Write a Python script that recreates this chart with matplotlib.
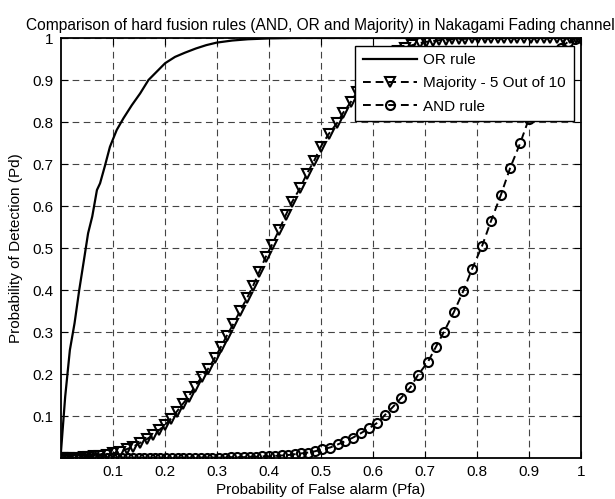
import matplotlib
matplotlib.use("Agg")
import matplotlib.pyplot as plt

plt.rcParams['font.family'] = ['Liberation Sans', 'DejaVu Sans']

# values
or_pfa = [0.0, 0.009, 0.018, 0.027, 0.036, 0.046, 0.053, 0.061, 0.070, 0.076, 0.085,
          0.095, 0.108, 0.121, 0.137, 0.153, 0.169, 0.185, 0.201, 0.220, 0.239,
          0.26, 0.28, 0.30, 0.33, 0.36, 0.40, 0.45, 0.5, 0.6, 0.7, 0.8, 0.9, 1.0]
or_pd = [0.0, 0.146, 0.257, 0.321, 0.400, 0.479, 0.535, 0.575, 0.638, 0.654, 0.694,
         0.741, 0.781, 0.809, 0.840, 0.868, 0.900, 0.920, 0.940, 0.955, 0.965,
         0.975, 0.983, 0.989, 0.994, 0.997, 0.999, 1.0, 1.0, 1.0, 1.0, 1.0, 1.0, 1.0]

maj_pfa = [0.0, 0.003, 0.008, 0.015, 0.025, 0.035, 0.045, 0.055, 0.065, 0.076, 0.089,
           0.101, 0.114, 0.127, 0.140, 0.153, 0.166, 0.178, 0.190, 0.201, 0.212,
           0.223, 0.235, 0.246, 0.258, 0.271, 0.284, 0.297, 0.308, 0.319, 0.332,
           0.345, 0.358, 0.370, 0.382, 0.394, 0.406, 0.420, 0.433, 0.445, 0.460,
           0.473, 0.487, 0.500, 0.515, 0.531, 0.543, 0.558, 0.570, 0.583, 0.596,
           0.609, 0.622, 0.636, 0.649, 0.662, 0.676, 0.690, 0.703, 0.716, 0.728,
           0.741, 0.753, 0.766, 0.778, 0.791, 0.803, 0.816, 0.828, 0.841, 0.853,
           0.866, 0.878, 0.891, 0.903, 0.916, 0.928, 0.941, 0.953, 0.966, 0.978,
           0.990, 1.0]
maj_pd = [0.0, 0.0, 0.0001, 0.0002, 0.0005, 0.001, 0.002, 0.003, 0.004, 0.005, 0.007,
          0.011, 0.015, 0.021, 0.027, 0.036, 0.045, 0.055, 0.067, 0.079, 0.094,
          0.110, 0.129, 0.146, 0.170, 0.192, 0.213, 0.239, 0.264, 0.290, 0.319,
          0.350, 0.380, 0.410, 0.444, 0.478, 0.507, 0.543, 0.579, 0.610, 0.642,
          0.676, 0.707, 0.741, 0.771, 0.797, 0.822, 0.848, 0.872, 0.895, 0.915,
          0.932, 0.947, 0.959, 0.969, 0.977, 0.983, 0.988, 0.991, 0.993, 0.995,
          0.996, 0.997, 0.998, 0.998, 0.999, 0.999, 0.999, 1.0, 1.0, 1.0,
          1.0, 1.0, 1.0, 1.0, 1.0, 1.0, 1.0, 1.0, 1.0, 1.0,
          1.0, 1.0]

and_pfa = [0.0, 0.004, 0.009, 0.015, 0.022, 0.029, 0.037, 0.045, 0.053, 0.062, 0.071,
           0.080, 0.090, 0.099, 0.109, 0.119, 0.129, 0.139, 0.150, 0.160, 0.171,
           0.181, 0.192, 0.203, 0.214, 0.225, 0.236, 0.247, 0.258, 0.270, 0.281,
           0.292, 0.304, 0.316, 0.328, 0.340, 0.352, 0.364, 0.376, 0.388, 0.400,
           0.412, 0.425, 0.437, 0.450, 0.463, 0.476, 0.489, 0.503, 0.518, 0.534,
           0.547, 0.561, 0.577, 0.593, 0.609, 0.623, 0.639, 0.655, 0.672, 0.687,
           0.706, 0.721, 0.737, 0.756, 0.774, 0.791, 0.810, 0.827, 0.846, 0.864,
           0.883, 0.900, 0.917, 0.933, 0.948, 0.962, 0.975, 0.988, 1.0]
and_pd = [0.0, 0.0, 0.0, 0.0, 0.0, 0.0, 0.0, 0.0, 0.0, 0.0, 0.0,
          0.0, 0.0, 0.0, 0.0, 0.0, 0.0, 0.0, 0.0, 0.0, 0.0,
          0.0, 0.0, 0.0, 0.0, 0.0005, 0.0005, 0.0005, 0.001, 0.001, 0.001,
          0.001, 0.001, 0.001, 0.002, 0.002, 0.002, 0.003, 0.003, 0.004, 0.004,
          0.005, 0.006, 0.007, 0.009, 0.011, 0.013, 0.016, 0.021, 0.025, 0.033,
          0.040, 0.048, 0.059, 0.071, 0.084, 0.102, 0.122, 0.144, 0.168, 0.198,
          0.229, 0.264, 0.301, 0.348, 0.398, 0.451, 0.505, 0.564, 0.626, 0.691,
          0.749, 0.808, 0.865, 0.913, 0.951, 0.977, 0.991, 0.998, 1.0]

x_ticks = [0.1, 0.2, 0.3, 0.4, 0.5, 0.6, 0.7, 0.8, 0.9, 1]
y_ticks = [0.1, 0.2, 0.3, 0.4, 0.5, 0.6, 0.7, 0.8, 0.9, 1]

fig = plt.figure(figsize=(6.15, 4.99), dpi=100)
ax = fig.add_axes([60.5 / 615, 1 - 458 / 499, 520.5 / 615, 420 / 499])

ax.plot(or_pfa, or_pd, '-', color='k', lw=1.6, label='OR rule')
ax.plot(maj_pfa, maj_pd, '--', color='k', lw=1.4, marker='v', ms=7,
        mfc='none', mec='k', mew=1.5, dashes=(4, 2.5), label='Majority - 5 Out of 10')
ax.plot(and_pfa, and_pd, '--', color='k', lw=1.4, marker='o', ms=6.5,
        mfc='none', mec='k', mew=1.5, dashes=(4, 2.5), label='AND rule')

ax.set_xlim(0, 1)
ax.set_ylim(0, 1)
ax.set_xticks(x_ticks)
ax.set_yticks(y_ticks)
ax.set_xticklabels([f"{t:g}" for t in x_ticks])
ax.set_yticklabels([f"{t:g}" for t in y_ticks])
ax.tick_params(direction='in', top=True, right=True, length=5, width=0.8,
               labelsize=11, colors='k', pad=5)
ax.grid(True, color='#444444', linestyle=(0, (6, 4)), linewidth=0.8)
for sp in ax.spines.values():
    sp.set_linewidth(1.3)
    sp.set_color('k')

ax.set_xlabel('Probability of False alarm (Pfa)', fontsize=11, labelpad=3)
ax.set_ylabel('Probability of Detection (Pd)', fontsize=11, labelpad=7)
ax.set_title('Comparison of hard fusion rules (AND, OR and Majority) in Nakagami Fading channel',
             fontsize=11.2, pad=6)

leg = ax.legend(loc='upper right', bbox_to_anchor=(0.986, 0.982), fontsize=11,
                fancybox=False, framealpha=1, edgecolor='k', borderpad=0.5,
                handlelength=3.5, handletextpad=0.45, labelspacing=0.6,
                borderaxespad=0)
leg.get_frame().set_linewidth(1.0)

fig.savefig('out.png', dpi=100, facecolor='white')
